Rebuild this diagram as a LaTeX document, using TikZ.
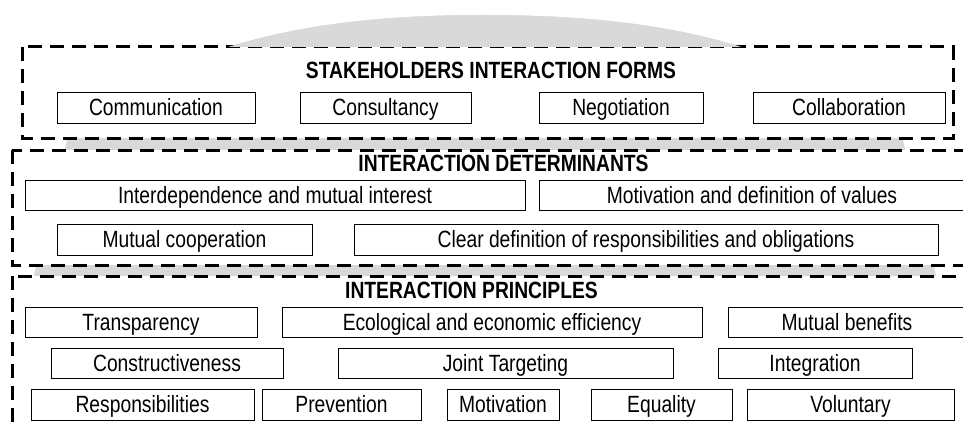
\documentclass[tikz,border=0pt]{standalone}
\usepackage{fontspec}
\setmainfont{Liberation Sans}[FakeStretch=0.82]
\definecolor{domegray}{RGB}{217,217,217}
\tikzset{
    factor/.style = {draw, rectangle, fill=white, line width=1pt,
        minimum height=30pt, inner sep=0pt,
        text height=16.8pt, text depth=0pt, align=center},
    heading/.style = {font=\fontsize{23.5}{27}\selectfont\bfseries,
        inner sep=0pt, text height=16.8pt, text depth=0pt},
    dashframe/.style = {draw, fill=white, line width=3pt,
        dash pattern=on 14pt off 8pt}
}
\def\dome{%
    (28,300) -- (67,140) .. controls (170,40) and (320,15) .. (483,15)
    .. controls (650,15) and (800,40) .. (903,140) -- (942,300) -- cycle
}

\begin{document}
\begin{tikzpicture}[x=1pt, y=-1pt, font=\fontsize{23.5}{27}\selectfont]
    \useasboundingbox (0,0) rectangle (963,428);
    \fill[domegray] \dome;
    % the three dashed frames
    \draw[dashframe] (22,47) rectangle (953,138);
    \draw[dashframe] (12,150) rectangle (980,265);
    \draw[dashframe] (12,276) rectangle (980,440);
    \begin{scope}
        \clip (0,0) rectangle (963,47);
        \fill[domegray] \dome;
    \end{scope}
    % forms
    \node[heading] (formtitle) at (491,70.5) {STAKEHOLDERS INTERACTION FORMS};
    \foreach \txt/\cx/\w [count=\i] in {Communication/156/198, Consultancy/385.5/171,
            Negotiation/621/164, Collaboration/849/192}{
        \node[factor, minimum width=\w pt, minimum height=31pt] (form\i) at (\cx,107.5) {\txt};
    }
    % determinants
    \node[heading] (dettitle) at (503.5,163.5) {INTERACTION DETERMINANTS};
    \foreach \txt/\cx/\w [count=\i] in {Interdependence and mutual interest/275/500,
            Motivation and definition of values/752/426}{
        \node[factor, minimum width=\w pt] (det\i) at (\cx,195) {\txt};
    }
    \foreach \txt/\cx/\w [count=\i from 3] in {Mutual cooperation/184.5/255,
            Clear definition of responsibilities and obligations/646/584}{
        \node[factor, minimum width=\w pt, minimum height=31pt] (det\i) at (\cx,239.5) {\txt};
    }
    % principles
    \node[heading] (printitle) at (471.5,290.5) {INTERACTION PRINCIPLES};
    \foreach \txt/\cx/\w [count=\i] in {Transparency/141/232,
            Ecological and economic efficiency/492/420, Mutual benefits/847/238}{
        \node[factor, minimum width=\w pt] (prin\i) at (\cx,322) {\txt};
    }
    \foreach \txt/\cx/\w [count=\i from 4] in {Constructiveness/167/232,
            Joint Targeting/505.5/335, Integration/815/194}{
        \node[factor, minimum width=\w pt] (prin\i) at (\cx,363) {\txt};
    }
    \foreach \txt/\cx/\w [count=\i from 7] in {Responsibilities/142.5/223, Prevention/341.5/159,
            Motivation/503/112, Equality/661.5/141, Voluntary/850.5/207}{
        \node[factor, minimum width=\w pt, minimum height=31pt] (prin\i) at (\cx,404.5) {\txt};
    }
\end{tikzpicture}
\end{document}
